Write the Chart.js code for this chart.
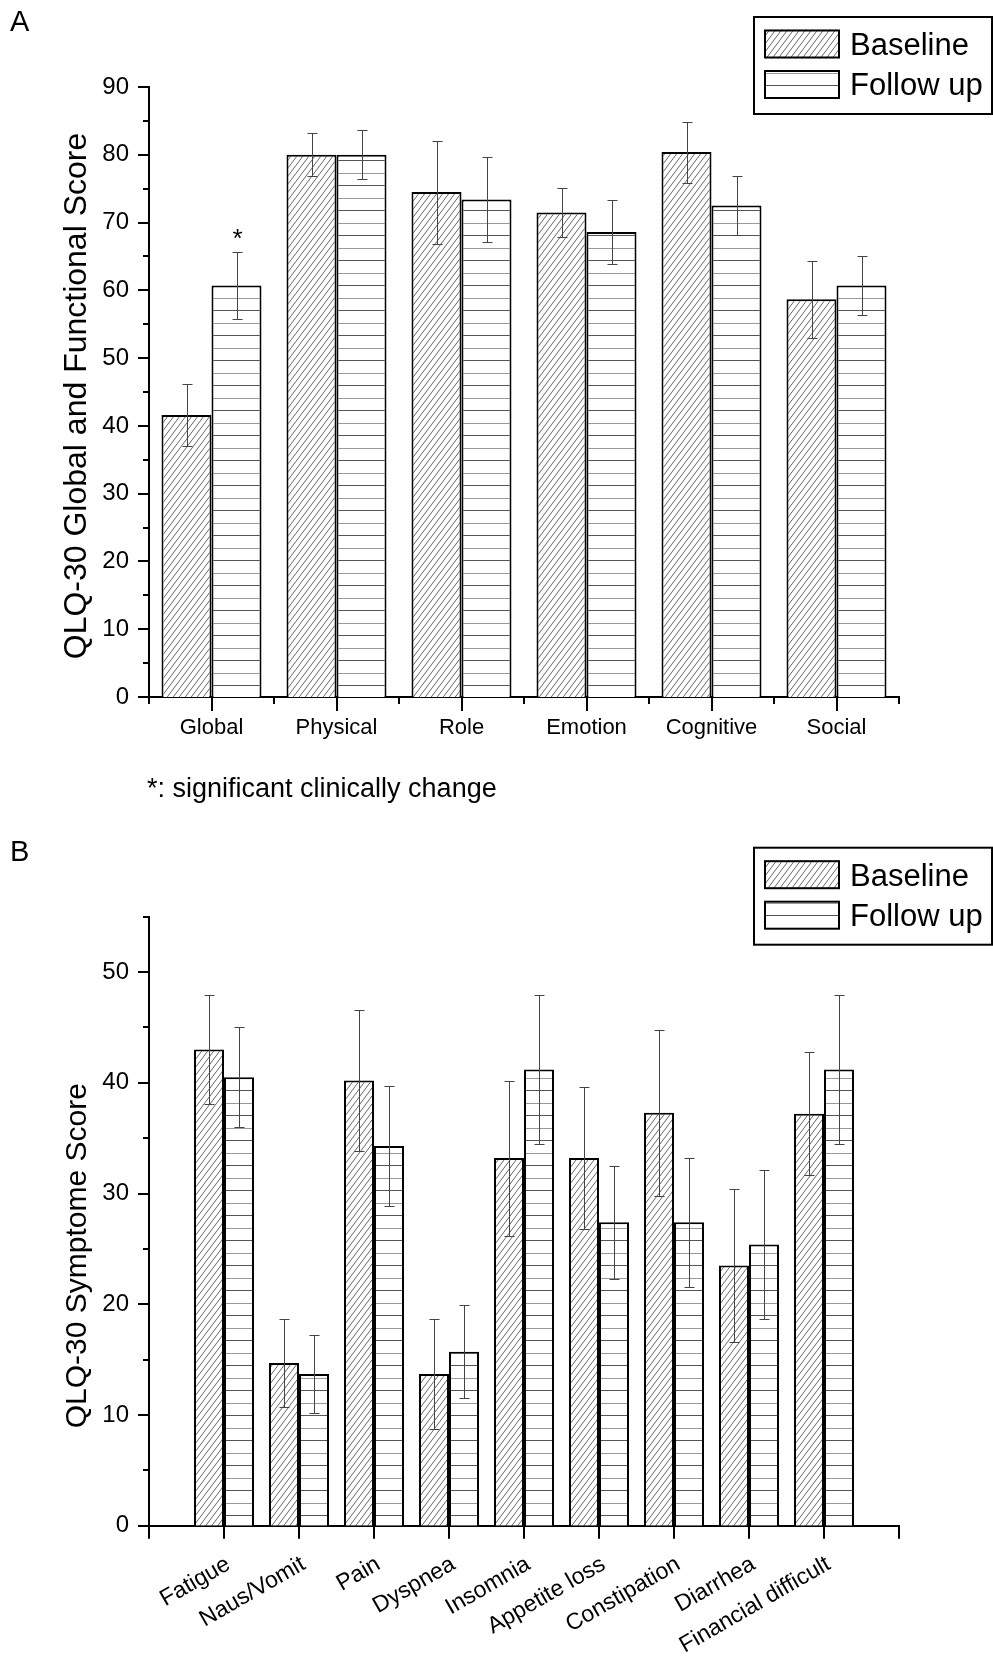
<!DOCTYPE html>
<html>
<head>
<meta charset="utf-8">
<title>QLQ-30 scores</title>
<script src="https://cdn.jsdelivr.net/npm/chart.js@4.4.1/dist/chart.umd.min.js"></script>
<style>
  body { margin: 0; background: #fff; }
  #wrap { position: relative; width: 993px; height: 1661px; }
  #chartA { position: absolute; left: 0; top: 0; }
  #chartB { position: absolute; left: 0; top: 800px; }
  #note {
    position: absolute; left: 147px; top: 775px;
    font: 27px/27px "Liberation Sans", Arial, sans-serif;
    color: #000; white-space: nowrap;
  }
</style>
</head>
<body>
<div id="wrap">
  <canvas id="chartA" width="993" height="800"></canvas>
  <div id="note">*: significant clinically change</div>
  <canvas id="chartB" width="993" height="861"></canvas>
</div>
<script>
// panel A: global and functional scales
const funcLabels = ["Global", "Physical", "Role", "Emotion", "Cognitive", "Social"];
const funcBaseline = [41.6, 80.0, 74.5, 71.5, 80.4, 58.7];
const funcBaselineErr = [4.6, 3.2, 7.6, 3.6, 4.5, 5.7];
const funcFollowUp = [60.7, 80.0, 73.4, 68.6, 72.5, 60.7];
const funcFollowUpErr = [5.0, 3.6, 6.2, 4.7, 4.3, 4.3];
const funcFollowUpMarks = ["*", "", "", "", "", ""];

// panel B: symptom scales
const symLabels = ["Fatigue", "Naus/Vomit", "Pain", "Dyspnea", "Insomnia",
  "Appetite loss", "Constipation", "Diarrhea", "Financial difficult"];
const symBaseline = [43.0, 14.7, 40.2, 13.7, 33.2, 33.2, 37.3, 23.5, 37.2];
const symBaselineErr = [4.9, 4.0, 6.4, 5.0, 7.0, 6.4, 7.5, 6.9, 5.55];
const symFollowUp = [40.5, 13.7, 34.3, 15.7, 41.2, 27.4, 27.4, 25.4, 41.2];
const symFollowUpErr = [4.5, 3.55, 5.4, 4.2, 6.7, 5.1, 5.85, 6.75, 6.7];

const FONT = '"Liberation Sans", Arial, sans-serif';
Chart.defaults.font.family = FONT;
Chart.defaults.color = "#000";

// diagonal hatch, "/" direction
function diagPattern() {
  const c = document.createElement("canvas");
  c.width = 6; c.height = 8;
  const g = c.getContext("2d");
  g.fillStyle = "#fff"; g.fillRect(0, 0, 6, 8);
  g.strokeStyle = "#666"; g.lineWidth = 1;
  for (const k of [-8, 0, 8]) {
    g.beginPath();
    g.moveTo(-1.5, 10 + k);
    g.lineTo(7.5, -2 + k);
    g.stroke();
  }
  return g.createPattern(c, "repeat");
}

// horizontal lines about 12.5px apart
function linePattern(row) {
  const c = document.createElement("canvas");
  c.width = 6; c.height = 25;
  const g = c.getContext("2d");
  g.fillStyle = "#fff"; g.fillRect(0, 0, 6, 25);
  g.fillStyle = "#555"; g.fillRect(0, row, 6, 1);
  g.fillStyle = "#999"; g.fillRect(0, (row + 13) % 25, 6, 1);
  return g.createPattern(c, "repeat");
}

const decor = {
  id: "panelDecor",
  afterDatasetsDraw(chart) {
    const ctx = chart.ctx, ys = chart.scales.y;
    ctx.save();
    ctx.strokeStyle = "#444";
    ctx.lineWidth = 1;
    ctx.fillStyle = "#000";
    ctx.font = "26px " + FONT;
    ctx.textAlign = "center";
    ctx.textBaseline = "alphabetic";
    chart.data.datasets.forEach((ds, di) => {
      const meta = chart.getDatasetMeta(di);
      meta.data.forEach((bar, j) => {
        const v = meta.controller.getParsed(j).y;
        const e = ds.errors[j];
        const x = Math.round(bar.x) + 0.5;
        const top = Math.round(ys.getPixelForValue(v + e)) + 0.5;
        const bot = Math.round(ys.getPixelForValue(v - e)) + 0.5;
        ctx.beginPath();
        ctx.moveTo(x, top); ctx.lineTo(x, bot);
        ctx.moveTo(x - 5, top); ctx.lineTo(x + 5, top);
        ctx.moveTo(x - 5, bot); ctx.lineTo(x + 5, bot);
        ctx.stroke();
        if (ds.marks && ds.marks[j]) ctx.fillText(ds.marks[j], x, top - 5.5);
      });
    });
    ctx.restore();
  },
  afterDraw(chart, args, o) {
    const ctx = chart.ctx, xs = chart.scales.x, ys = chart.scales.y;
    const area = chart.chartArea;
    ctx.save();
    ctx.strokeStyle = "#000";
    ctx.lineWidth = 2;

    // y tick marks, minor every 5
    ys.ticks.forEach(t => {
      const y = Math.round(ys.getPixelForValue(t.value));
      const len = t.value % 10 === 0 ? 11 : 6;
      ctx.beginPath();
      ctx.moveTo(area.left - len, y); ctx.lineTo(area.left, y);
      ctx.stroke();
    });

    // x tick marks
    const marks = [];
    if (o.xMode === "category") {
      const n = chart.data.labels.length, w = (area.right - area.left) / n;
      for (let i = 0; i <= n; i++) marks.push([area.left + i * w, 7]);
      for (let i = 0; i < n; i++) marks.push([xs.getPixelForValue(i), 14]);
    } else {
      xs.ticks.forEach(t => marks.push([xs.getPixelForValue(t.value), 13]));
    }
    marks.forEach(([x, len]) => {
      const px = Math.round(x);
      ctx.beginPath();
      ctx.moveTo(px, area.bottom); ctx.lineTo(px, area.bottom + len);
      ctx.stroke();
    });

    // legend box
    const T = o.legendTop;
    ctx.strokeRect(754, T + 1, 238, 97);
    ctx.font = "31px " + FONT;
    ctx.textAlign = "left";
    ctx.textBaseline = "alphabetic";
    chart.data.datasets.forEach((ds, i) => {
      const sy = T + 13.5 + i * 40.5;
      ctx.fillStyle = ds.backgroundColor;
      ctx.fillRect(764, sy, 76, 29);
      ctx.strokeRect(765, sy + 1, 74, 27);
      ctx.fillStyle = "#000";
      ctx.fillText(ds.label, 850, T + 39 + i * 40);
    });

    // y axis title
    ctx.save();
    ctx.translate(86, o.titleCenter);
    ctx.rotate(-Math.PI / 2);
    ctx.font = o.titleSize + "px " + FONT;
    ctx.textAlign = "center";
    ctx.fillText(o.title, 0, 0);
    ctx.restore();

    // panel letter
    ctx.font = "29px " + FONT;
    ctx.textAlign = "left";
    ctx.fillText(o.letter, 10, o.letterY);
    ctx.restore();
  }
};

const axisBorder = { display: true, color: "#000", width: 2 };
const noGrid = { display: false, drawTicks: false };

new Chart(document.getElementById("chartA").getContext("2d"), {
  type: "bar",
  data: {
    labels: funcLabels,
    datasets: [
      {
        label: "Baseline",
        data: funcBaseline,
        errors: funcBaselineErr,
        backgroundColor: diagPattern(),
        borderColor: "#000",
        borderWidth: 2,
      },
      {
        label: "Follow up",
        data: funcFollowUp,
        errors: funcFollowUpErr,
        marks: funcFollowUpMarks,
        backgroundColor: linePattern(10),
        borderColor: "#000",
        borderWidth: 2,
      },
    ],
  },
  options: {
    responsive: false,
    animation: false,
    events: [],
    layout: { padding: { left: 0, right: 94, top: 87, bottom: 0 } },
    datasets: { bar: { categoryPercentage: 0.8, barPercentage: 1.0 } },
    plugins: {
      legend: { display: false },
      tooltip: { enabled: false },
      panelDecor: {
        xMode: "category",
        legendTop: 16,
        title: "QLQ-30 Global and Functional Score",
        titleSize: 32,
        titleCenter: 396,
        letter: "A",
        letterY: 31,
      },
    },
    scales: {
      x: {
        type: "category",
        offset: true,
        grid: noGrid,
        border: axisBorder,
        ticks: { font: { size: 22 }, padding: 18, maxRotation: 0, autoSkip: false },
        afterFit: (s) => { s.height = 103; },
      },
      y: {
        min: 0,
        max: 90,
        grid: noGrid,
        border: axisBorder,
        ticks: {
          stepSize: 5,
          font: { size: 24 },
          padding: 20,
          callback: (v) => (v % 10 === 0 ? v : ""),
        },
        afterFit: (s) => { s.width = 149; },
      },
    },
  },
  plugins: [decor],
});

new Chart(document.getElementById("chartB").getContext("2d"), {
  type: "bar",
  data: {
    datasets: [
      {
        label: "Baseline",
        data: symBaseline.map((y, i) => ({ x: i + 1, y: y })),
        errors: symBaselineErr,
        backgroundColor: diagPattern(),
        borderColor: "#000",
        borderWidth: 2,
      },
      {
        label: "Follow up",
        data: symFollowUp.map((y, i) => ({ x: i + 1, y: y })),
        errors: symFollowUpErr,
        backgroundColor: linePattern(15),
        borderColor: "#000",
        borderWidth: 2,
      },
    ],
  },
  options: {
    responsive: false,
    animation: false,
    events: [],
    layout: { padding: { left: 0, right: 94, top: 116.7, bottom: 0 } },
    datasets: { bar: { categoryPercentage: 0.8, barPercentage: 1.0 } },
    plugins: {
      legend: { display: false },
      tooltip: { enabled: false },
      panelDecor: {
        xMode: "linear",
        legendTop: 46.7,
        title: "QLQ-30 Symptome Score",
        titleSize: 30,
        titleCenter: 455.7,
        letter: "B",
        letterY: 61,
      },
    },
    scales: {
      x: {
        type: "linear",
        min: 0,
        max: 10,
        offset: false,
        grid: { display: false, drawTicks: false, offset: false },
        border: axisBorder,
        ticks: {
          stepSize: 1,
          autoSkip: false,
          minRotation: 30,
          maxRotation: 30,
          padding: 25,
          labelOffset: 4.5,
          font: { size: 23 },
          callback: (v) => symLabels[v - 1] || "",
        },
        afterFit: (s) => { s.height = 135.3; },
      },
      y: {
        min: 0,
        max: 55,
        grid: noGrid,
        border: axisBorder,
        ticks: {
          stepSize: 5,
          font: { size: 24 },
          padding: 20,
          callback: (v) => (v % 10 === 0 ? v : ""),
        },
        afterFit: (s) => { s.width = 149; },
      },
    },
  },
  plugins: [decor],
});
</script>
</body>
</html>
